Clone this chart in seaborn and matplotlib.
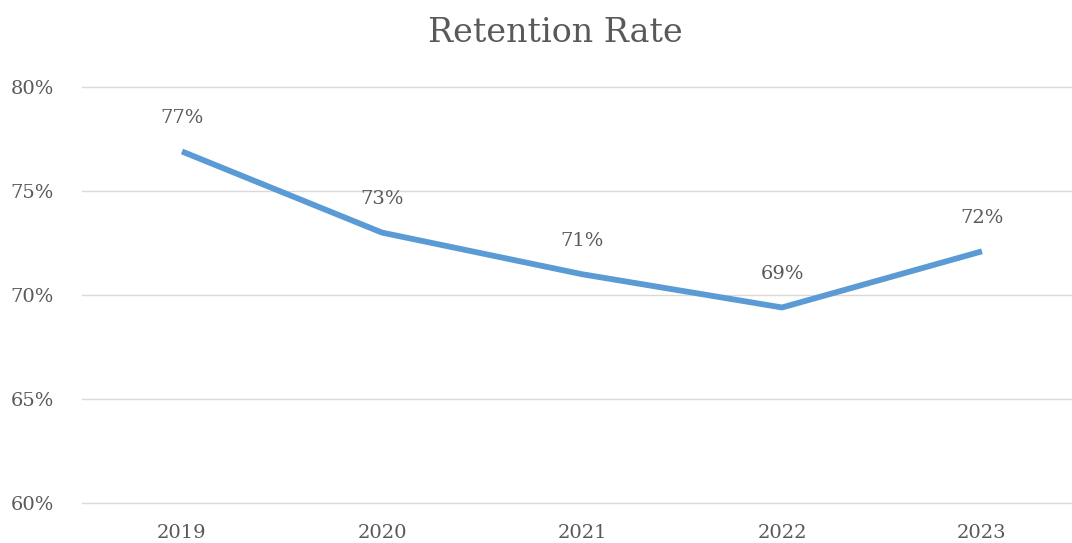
import matplotlib
matplotlib.use("Agg")
import matplotlib.pyplot as plt
import seaborn as sns
import pandas as pd
from matplotlib.ticker import FuncFormatter, FixedLocator

years = ["2019", "2020", "2021", "2022", "2023"]
retention = [76.9, 73.0, 71.0, 69.4, 72.1]
yticks = [60, 65, 70, 75, 80]

df = pd.DataFrame({"Year": years, "Retention": retention})

sns.set_theme(style="white")
plt.rcParams["font.family"] = ["DejaVu Serif"]
text_color = "#595959"
grid_color = "#D9D9D9"
line_color = "#5B9BD5"

fig = plt.figure(figsize=(10.72, 5.43), dpi=100)
ax = fig.add_axes([82 / 1072, 40 / 543, 1000 / 1072, 416 / 543])

sns.lineplot(data=df, x="Year", y="Retention", ax=ax, color=line_color,
             linewidth=4.2, sort=False, solid_capstyle="butt")

ax.set_xlim(-0.5, len(years) - 0.5)
ax.set_ylim(60, 80)
ax.yaxis.set_major_locator(FixedLocator(yticks))
ax.yaxis.set_major_formatter(FuncFormatter(lambda v, p: f"{v:.0f}%"))
ax.grid(axis="y", color=grid_color, linewidth=1)
for gl in ax.get_ygridlines():
    gl.set_clip_on(False)
ax.set_axisbelow(True)
for s in ax.spines.values():
    s.set_visible(False)
ax.set_xlabel("")
ax.set_ylabel("")
ax.tick_params(axis="both", length=0, labelsize=14, colors=text_color)
ax.tick_params(axis="y", pad=20)
ax.tick_params(axis="x", pad=15)

for i, v in enumerate(retention):
    ax.annotate(f"{v:.0f}%", (i, v), xytext=(0, 24), textcoords="offset points",
                ha="center", va="center", fontsize=14, color=text_color)

fig.text(555 / 1072, 1 - 33 / 543, "Retention Rate", ha="center", va="center",
         fontsize=24, color=text_color)

fig.savefig("out.png", dpi=100)
